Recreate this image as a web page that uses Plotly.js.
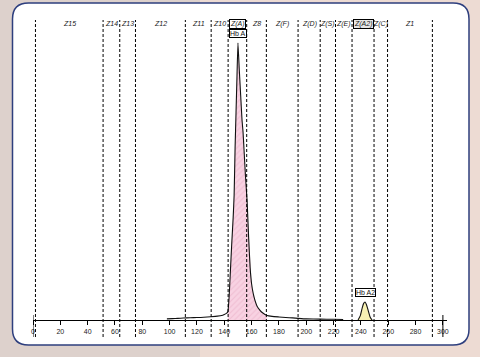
<!DOCTYPE html>
<html>
<head>
<meta charset="utf-8">
<script src="https://cdn.plot.ly/plotly-3.0.1.min.js"></script>
<style>html,body{margin:0;padding:0;background:#e9d9d2;}#chart{width:480px;height:357px;}</style>
</head>
<body>
<div id="chart"></div>
<script>
// Migration positions and signal values
const traceX = [98,102,106,110,115,120,125,130,135,138,140,141.5,142.6,143.5,144.5,145.5,146.5,147.2,147.9,148.6,149.3,150,151,152,153,153.7,154.5,155.5,156.7,157.8,158.9,160,161.2,162.5,164,166,168,171.3,175,180,185,190,194,200,210,220,227,null,237.9,239.5,241,242,243,244,245.3,246.8,248.2];
const traceY = [0.4,0.5,0.6,0.7,0.8,0.9,1.0,1.2,1.4,1.6,2.0,2.4,3.0,8,18,28,37,45,62,75,88,100,90,81,72,68,61,52,43,30,19,13,9.5,7,5,3.6,2.6,1.6,1.3,1.1,0.9,0.75,0.6,0.4,0.3,0.25,0.2,null,0,1.5,4.5,6,6.5,5.6,3.5,1,0];
const hbAFillX = [142.6,143.5,144.5,145.5,146.5,147.2,147.9,148.6,149.3,150,151,152,153,153.7,154.5,155.5,156.7,157.8,158.9,160,161.2,162.5,164,166,168,171.3];
const hbAFillY = [3.0,8,18,28,37,45,62,75,88,100,90,81,72,68,61,52,43,30,19,13,9.5,7,5,3.6,2.6,1.6];
const hbA2X = [237.9,239.5,241,242,243,244,245.3,246.8,248.2];
const hbA2Y = [0,1.5,4.5,6,6.5,5.6,3.5,1,0];
const zoneBounds = [1.8,51.3,63.5,75,111.5,130.4,142.8,156.4,170.8,194,210.2,221.4,233.5,249.6,259.5,292.3];
const zoneNames = ["Z15","Z14","Z13","Z12","Z11","Z10","Z(A)","Z8","Z(F)","Z(D)","Z(S)","Z(E)","Z(A2)","Z(C)","Z1"];
const boxedZones = ["Z(A)","Z(A2)"];
const tickVals = [0,20,40,60,80,100,120,140,160,180,200,220,240,260,280,300];
const endTicks = [0,300];
const peakNames = ["Hb A","Hb A2"];
const peakX = [150,243];
const peakY = [100,6.5];

const W = 480, H = 357;
const mL = 33, mR = 33, mT = 18, mB = 37;
const pw = W - mL - mR, ph = H - mT - mB;
const px = v => (v - mL) / pw;
const py = v => (H - mB - v) / ph;

function roundRect(x0, y0, x1, y1, r) {
  const p = [];
  p.push(`M ${px(x0 + r)} ${py(y0)}`);
  p.push(`L ${px(x1 - r)} ${py(y0)}`);
  p.push(`Q ${px(x1)} ${py(y0)} ${px(x1)} ${py(y0 + r)}`);
  p.push(`L ${px(x1)} ${py(y1 - r)}`);
  p.push(`Q ${px(x1)} ${py(y1)} ${px(x1 - r)} ${py(y1)}`);
  p.push(`L ${px(x0 + r)} ${py(y1)}`);
  p.push(`Q ${px(x0)} ${py(y1)} ${px(x0)} ${py(y1 - r)}`);
  p.push(`L ${px(x0)} ${py(y0 + r)}`);
  p.push(`Q ${px(x0)} ${py(y0)} ${px(x0 + r)} ${py(y0)}`);
  p.push('Z');
  return p.join(' ');
}

const shapes = [];
// soft backdrop tones outside the panel
shapes.push({type:'rect', xref:'paper', yref:'paper', x0:px(0), x1:px(200), y0:py(357), y1:py(0),
  fillcolor:'#ddd1cc', line:{width:0}, layer:'below'});
shapes.push({type:'path', xref:'paper', yref:'paper', path: roundRect(12.5, 3, 469, 345, 16),
  fillcolor:'#ffffff', line:{color:'#2e3f7e', width:1.5}, layer:'below'});
zoneBounds.forEach(b => shapes.push({type:'line', xref:'x', yref:'paper', x0:b, x1:b,
  y0:py(337), y1:py(20), line:{color:'#000', width:1, dash:'3px,2px'}}));
endTicks.forEach(t => shapes.push({type:'line', xref:'x', yref:'paper', x0:t, x1:t,
  y0:py(337), y1:py(315), line:{color:'#000', width:1}}));

const annotations = [];
for (let i = 0; i < zoneNames.length; i++) {
  const boxed = boxedZones.includes(zoneNames[i]);
  annotations.push({x:(zoneBounds[i] + zoneBounds[i+1]) / 2, xref:'x', y:py(24), yref:'paper',
    text: zoneNames[i], showarrow:false, yanchor:'middle',
    font:{family:'Liberation Sans, Arial', size:7, color:'#1a1a1a', style:'italic'},
    bordercolor: boxed ? '#000' : 'rgba(0,0,0,0)', borderwidth: boxed ? 1 : 0, borderpad: 0,
    bgcolor: boxed ? (zoneNames[i] === 'Z(A2)' ? '#e6e6e6' : '#ffffff') : 'rgba(0,0,0,0)'});
}
peakNames.forEach((n, i) => annotations.push({x:peakX[i], y:peakY[i], xref:'x', yref:'y', text:n,
  showarrow:false, yanchor:'bottom', yshift:5,
  font:{family:'Liberation Sans, Arial', size:7, color:'#111'},
  bordercolor:'#000', borderwidth:1, borderpad:0, bgcolor:'#ffffff'}));

const data = [
  {x: hbAFillX, y: hbAFillY, type:'scatter', mode:'lines', fill:'tozeroy', line:{width:0, color:'rgba(0,0,0,0)'},
   fillcolor:'#f6cadc', fillpattern:{shape:'/', bgcolor:'#f8d2e2', fgcolor:'#f0bdd2', size:4, solidity:0.25}, hoverinfo:'skip'},
  {x: hbA2X, y: hbA2Y, type:'scatter', mode:'lines', fill:'tozeroy', line:{width:0, color:'rgba(0,0,0,0)'},
   fillcolor:'#f7f1b3', hoverinfo:'skip'},
  {x: traceX, y: traceY, type:'scatter', mode:'lines', line:{color:'#111', width:1.1, shape:'spline', smoothing:0.4}, connectgaps:false}
];

const layout = {
  width: W, height: H,
  margin:{l:mL, r:mR, t:mT, b:mB, pad:0},
  paper_bgcolor:'#eddbd3', plot_bgcolor:'rgba(0,0,0,0)',
  showlegend:false,
  xaxis:{range:[0,303], showgrid:false, zeroline:false, showline:true, linecolor:'#000', linewidth:1.2,
    tickvals: tickVals, ticktext: tickVals.map(String), ticks:'outside', ticklen:4, tickcolor:'#000', tickwidth:1,
    tickfont:{family:'Liberation Sans, Arial', size:7, color:'#222'}, fixedrange:true},
  yaxis:{range:[0,109], visible:false, fixedrange:true},
  shapes: shapes,
  annotations: annotations
};

Plotly.newPlot('chart', data, layout, {staticPlot:true, displayModeBar:false});
</script>
</body>
</html>
